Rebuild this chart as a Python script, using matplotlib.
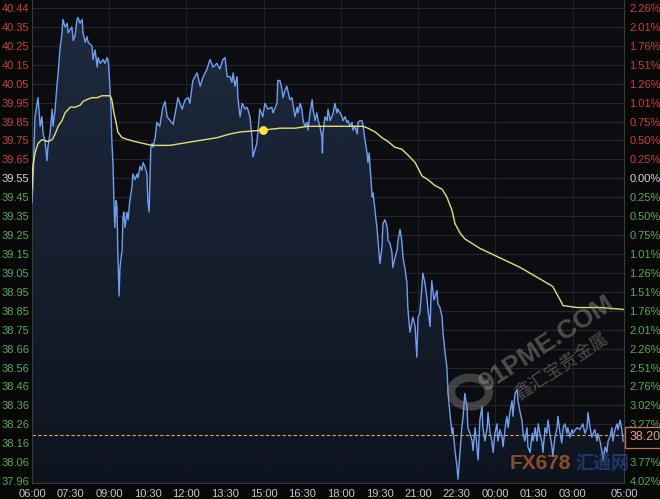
import numpy as np
import matplotlib
matplotlib.use("Agg")
import matplotlib.pyplot as plt
from matplotlib.colors import LinearSegmentedColormap
from matplotlib.patches import Circle

# minutes after 06:00 and price
t = [0, 2, 7, 14, 19, 23, 26, 30, 35, 37, 42, 47, 49, 54, 58, 61, 65, 70, 72, 77,
     82, 84, 93, 96, 100, 105, 107, 112, 117, 119, 124, 128, 131, 140, 142, 147, 152, 154, 159, 166,
     170, 175, 177, 179, 182, 184, 186, 189, 191, 193, 196, 198, 200, 203, 205, 210, 212, 214, 217, 221,
     224, 228, 233, 235, 240, 245, 247, 252, 256, 259, 263, 268, 270, 273, 277, 280, 282, 287, 291, 298,
     305, 310, 315, 322, 329, 338, 340, 350, 357, 364, 368, 375, 385, 392, 399, 408, 415, 422, 431, 438,
     445, 450, 455, 462, 466, 469, 473, 478, 480, 485, 490, 497, 501, 503, 508, 513, 515, 520, 524, 527,
     531, 538, 543, 550, 559, 562, 571, 573, 578, 583, 585, 590, 594, 601, 606, 608, 613, 618, 620, 625,
     629, 632, 636, 641, 643, 648, 653, 655, 660, 664, 667, 671, 676, 677, 678, 683, 688, 690, 695, 699,
     702, 706, 711, 713, 723, 725, 730, 734, 737, 741, 746, 748, 753, 758, 760, 765, 769, 772, 776, 781,
     783, 786, 788, 793, 795, 800, 804, 807, 811, 816, 818, 823, 828, 830, 834, 839, 841, 846, 851, 853,
     858, 862, 865, 869, 874, 876, 881, 886, 888, 893, 897, 900, 904, 909, 911, 916, 921, 923, 928, 930,
     932, 937, 944, 946, 951, 956, 958, 963, 967, 970, 974, 979, 981, 986, 991, 993, 998, 1002, 1005, 1009,
     1014, 1016, 1021, 1026, 1028, 1033, 1037, 1040, 1044, 1049, 1051, 1056, 1061, 1063, 1068, 1072, 1075, 1079, 1084, 1086,
     1091, 1096, 1098, 1103, 1107, 1110, 1114, 1119, 1121, 1126, 1131, 1133, 1138, 1142, 1145, 1149, 1154, 1156, 1161, 1166,
     1168, 1173, 1177, 1180, 1184, 1189, 1191, 1196, 1200, 1203, 1207, 1212, 1214, 1219, 1224, 1226, 1231, 1235, 1238, 1242,
     1247, 1249, 1254, 1259, 1261, 1270, 1277, 1284, 1289, 1294, 1296, 1301, 1305, 1308, 1312, 1317, 1319, 1324, 1329, 1331,
     1336, 1340, 1343, 1347, 1352, 1354, 1359, 1364, 1366, 1371, 1375, 1378]
price = [39.42, 39.50, 39.87, 39.97, 39.82, 39.87, 39.78, 39.75, 39.64, 39.71, 39.78, 39.91, 39.82, 39.91, 40.03, 40.10, 40.22, 40.31, 40.38, 40.34,
         40.36, 40.31, 40.34, 40.27, 40.29, 40.38, 40.39, 40.36, 40.38, 40.31, 40.26, 40.29, 40.26, 40.24, 40.17, 40.22, 40.13, 40.18, 40.15, 40.17,
         40.15, 40.18, 40.17, 40.13, 40.01, 39.92, 39.75, 39.61, 39.43, 39.29, 39.43, 39.40, 39.17, 38.93, 39.08, 39.17, 39.34, 39.37, 39.29, 39.37,
         39.33, 39.43, 39.50, 39.57, 39.54, 39.57, 39.55, 39.61, 39.59, 39.63, 39.61, 39.57, 39.43, 39.37, 39.71, 39.73, 39.71, 39.76, 39.84, 39.82,
         39.92, 39.95, 39.87, 39.85, 39.83, 39.94, 39.97, 39.91, 39.96, 39.97, 39.94, 40.06, 40.10, 40.03, 40.08, 40.12, 40.17, 40.13, 40.15, 40.12,
         40.17, 40.18, 40.08, 40.08, 40.05, 40.10, 40.03, 40.08, 39.97, 39.87, 39.94, 39.91, 39.92, 39.91, 39.87, 39.76, 39.66, 39.70, 39.73, 39.80,
         39.91, 39.87, 39.94, 39.91, 39.92, 39.89, 39.94, 40.06, 40.06, 40.01, 39.97, 40.01, 40.03, 39.96, 39.97, 39.94, 39.87, 39.92, 39.89, 39.94,
         39.91, 39.85, 39.82, 39.84, 39.80, 39.89, 39.96, 39.91, 39.85, 39.89, 39.85, 39.82, 39.76, 39.68, 39.78, 39.87, 39.85, 39.91, 39.85, 39.87,
         39.89, 39.94, 39.89, 39.91, 39.87, 39.85, 39.87, 39.84, 39.85, 39.82, 39.84, 39.80, 39.82, 39.78, 39.84, 39.85, 39.85, 39.82, 39.75, 39.68,
         39.63, 39.68, 39.61, 39.45, 39.47, 39.37, 39.29, 39.21, 39.10, 39.19, 39.31, 39.33, 39.29, 39.22, 39.21, 39.16, 39.08, 39.13, 39.17, 39.22,
         39.28, 39.22, 39.13, 39.08, 39.00, 38.87, 38.74, 38.80, 38.82, 38.77, 38.61, 38.82, 38.84, 38.98, 39.05, 39.00, 38.91, 38.86, 38.77, 38.92,
         39.01, 38.91, 38.96, 38.89, 38.87, 38.82, 38.74, 38.63, 38.56, 38.42, 38.32, 38.21, 38.24, 38.12, 38.03, 37.97, 38.12, 38.24, 38.30, 38.42,
         38.35, 38.24, 38.21, 38.17, 38.12, 38.24, 38.14, 38.07, 38.28, 38.35, 38.24, 38.17, 38.24, 38.32, 38.21, 38.17, 38.11, 38.21, 38.26, 38.17,
         38.23, 38.19, 38.14, 38.24, 38.30, 38.24, 38.32, 38.38, 38.30, 38.42, 38.44, 38.38, 38.32, 38.28, 38.21, 38.17, 38.24, 38.14, 38.11, 38.21,
         38.17, 38.24, 38.17, 38.26, 38.21, 38.16, 38.11, 38.24, 38.21, 38.28, 38.21, 38.14, 38.09, 38.19, 38.24, 38.30, 38.21, 38.16, 38.24, 38.26,
         38.21, 38.24, 38.19, 38.23, 38.21, 38.24, 38.23, 38.26, 38.21, 38.24, 38.32, 38.24, 38.19, 38.21, 38.23, 38.17, 38.21, 38.17, 38.11, 38.07,
         38.14, 38.11, 38.17, 38.19, 38.24, 38.17, 38.23, 38.26, 38.23, 38.28, 38.23, 38.17]

# average line
t_avg = [0, 2, 7, 14, 23, 37, 47, 54, 61, 70, 77, 89, 100, 112, 119, 128, 140, 152, 163, 175,
         182, 186, 191, 196, 200, 210, 224, 240, 259, 280, 322, 375, 431, 462, 485, 538, 578, 613, 643, 723,
         772, 783, 800, 816, 830, 846, 862, 876, 893, 909, 923, 939, 956, 967, 979, 986, 998, 1009, 1044, 1091,
         1138, 1184, 1214, 1226, 1231, 1238, 1270, 1324, 1378]
avg = [39.49, 39.61, 39.68, 39.73, 39.75, 39.74, 39.75, 39.78, 39.82, 39.85, 39.89, 39.92, 39.92, 39.93, 39.95, 39.96, 39.97, 39.97, 39.98, 39.98,
       39.98, 39.96, 39.89, 39.84, 39.79, 39.76, 39.75, 39.74, 39.73, 39.72, 39.72, 39.74, 39.76, 39.78, 39.79, 39.80, 39.81, 39.81, 39.82, 39.82,
       39.82, 39.81, 39.79, 39.76, 39.74, 39.71, 39.70, 39.67, 39.63, 39.56, 39.54, 39.51, 39.49, 39.45, 39.38, 39.31, 39.26, 39.23, 39.18, 39.13,
       39.08, 39.02, 38.98, 38.93, 38.91, 38.88, 38.87, 38.87, 38.86]
dot_t, dot_p = 538, 39.80
last_price = 38.20

x_ticks = [0, 90, 180, 270, 360, 450, 540, 630, 720, 810, 900, 990, 1080, 1170, 1260, 1380]
x_labels = ['06:00', '07:30', '09:00', '10:30', '12:00', '13:30', '15:00', '16:30', '18:00',
            '19:30', '21:00', '22:30', '00:00', '01:30', '03:00', '05:00']
y_labels = ['37.96', '38.06', '38.16', '38.26', '38.36', '38.46', '38.56', '38.66', '38.75',
            '38.85', '38.95', '39.05', '39.15', '39.25', '39.35', '39.45', '39.55', '39.65',
            '39.75', '39.85', '39.95', '40.05', '40.15', '40.25', '40.35', '40.44']
pct_labels = ['4.02%', '3.77%', '3.52%', '3.27%', '3.02%', '2.76%', '2.51%', '2.26%', '2.01%',
              '1.76%', '1.51%', '1.26%', '1.01%', '0.75%', '0.50%', '0.25%', '0.00%', '0.25%',
              '0.50%', '0.75%', '1.01%', '1.26%', '1.51%', '1.76%', '2.01%', '2.26%']
y_ticks = np.linspace(37.96, 40.44, len(y_labels))

RED, GREEN, WHITE = '#c8403f', '#5ea85e', '#d8d8d8'
def lab_color(i):
    if i < 16:
        return GREEN
    if i == 16:
        return WHITE
    return RED

plt.rcParams['font.family'] = ['Liberation Sans', 'DejaVu Sans']

fig = plt.figure(figsize=(6.6, 4.99), dpi=100, facecolor='#070707')
ax = fig.add_axes([32 / 660, 16 / 499, 592 / 660, 483 / 499])
ax.set_facecolor('#0c0d10')
ylo, yhi = 37.95, 40.482
ax.set_xlim(0, 1380)
ax.set_ylim(ylo, yhi)

# grid
for yt in y_ticks:
    ax.axhline(yt, color='#262629', lw=0.8, zorder=0.5)
for xt in [180, 360, 540, 720, 900, 1080, 1260]:
    ax.axvline(xt, color='#222226', lw=0.8, zorder=0.5)

# gradient fill under price
cmap = LinearSegmentedColormap.from_list('fill', ['#0f1520', '#1f2c42'])
grad = np.linspace(0, 1, 256).reshape(-1, 1)
im = ax.imshow(grad, extent=[0, 1380, ylo, 40.40], origin='lower', aspect='auto',
               cmap=cmap, zorder=1, alpha=0.95)
poly = ax.fill_between(t, price, ylo, color='none', lw=0)
im.set_clip_path(poly.get_paths()[0], transform=ax.transData)

ax.plot(t, price, color='#6f9ff0', lw=1.0, zorder=3)
ax.plot(t_avg, avg, color='#e6df78', lw=1.0, zorder=4)
ax.scatter([dot_t], [dot_p], s=28, color='#ffe53a', zorder=5)
ax.axhline(last_price, color='#e3a64a', lw=0.8, ls=(0, (3, 2)), zorder=2)

# watermarks
ring = Circle((470 / 660, 1 - 392 / 499), 19 / 660, transform=fig.transFigure,
              fill=False, ec='#a0a0a0', lw=6, alpha=0.35, zorder=6)
fig.patches.append(ring)
ax.text(1200, 38.68, '91PME.COM', rotation=33, fontsize=19, fontweight='bold',
        color='#9a9a9a', alpha=0.45, ha='center', va='center', zorder=6)
ax.text(1235, 38.56, '鑫汇宝贵金属', rotation=33, fontsize=13,
        family=['Noto Sans CJK SC'], color='#9a9a9a', alpha=0.45, ha='center', va='center', zorder=6)
ax.text(1185, 38.05, 'FX678', fontsize=15, fontweight='bold', color='#c0652a', alpha=0.7,
        ha='center', va='center', zorder=6)
ax.text(1330, 38.05, '汇通网', fontsize=13, fontweight='bold', family=['Noto Sans CJK SC'],
        color='#2a4f9a', alpha=0.6, ha='center', va='center', zorder=6)

for s in ax.spines.values():
    s.set_color('#3a3a3a')
    s.set_linewidth(0.8)
ax.spines['top'].set_visible(False)

ax.set_xticks(x_ticks)
ax.set_xticklabels(x_labels)
ax.set_yticks(y_ticks)
ax.set_yticklabels(y_labels)
ax.tick_params(axis='x', length=0, pad=4, labelsize=8, labelcolor='#c8c8c8')
ax.tick_params(axis='y', length=0, pad=2, labelsize=8)
for i, lbl in enumerate(ax.get_yticklabels()):
    lbl.set_color(lab_color(i))

ax2 = ax.twinx()
ax2.set_ylim(ylo, yhi)
ax2.set_yticks(y_ticks)
ax2.set_yticklabels(pct_labels)
ax2.tick_params(axis='y', length=0, pad=4, labelsize=8)
for i, lbl in enumerate(ax2.get_yticklabels()):
    lbl.set_color(lab_color(i))
    if pct_labels[i] == '3.52%':
        lbl.set_visible(False)  # hidden behind last-price box in the reference
for s in ax2.spines.values():
    s.set_visible(False)

ax2.annotate(f'{last_price:.2f}', xy=(1.0, last_price - 0.01), xycoords=('axes fraction', 'data'),
             xytext=(4, 0), textcoords='offset points', ha='left', va='center',
             fontsize=9, color='#e8a090', annotation_clip=False, zorder=10,
             bbox=dict(boxstyle='square,pad=0.35', fc='#0a0a0a', ec='#c87060', lw=0.9))

fig.savefig('out.png', dpi=100, facecolor=fig.get_facecolor())
